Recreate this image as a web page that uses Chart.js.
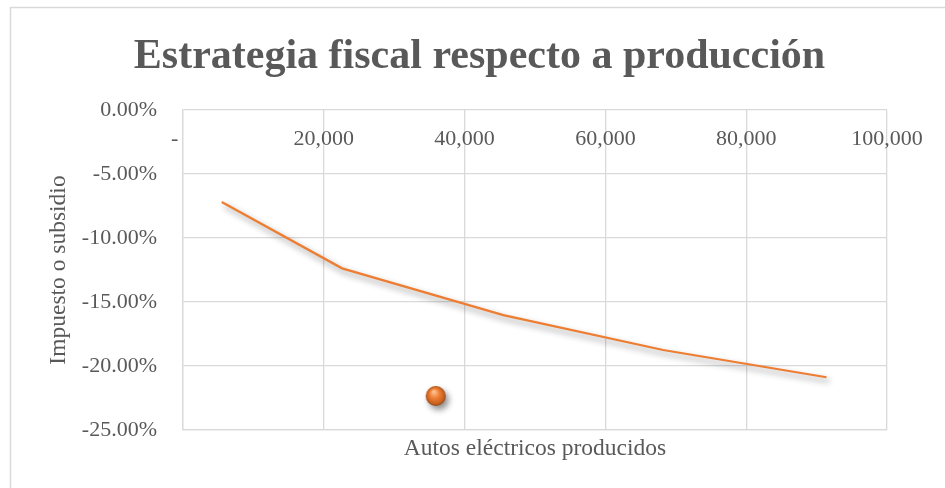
<!DOCTYPE html>
<html>
<head>
<meta charset="utf-8">
<script src="https://cdn.jsdelivr.net/npm/chart.js@4.4.1/dist/chart.umd.min.js"></script>
<style>
  html, body { margin: 0; padding: 0; background: #fff; }
</style>
</head>
<body>
<canvas id="taxChart" width="945" height="488"></canvas>
<script>
// autos producidos vs. impuesto (negativo = subsidio), en %
const produccion = [5500, 22600, 45500, 68200, 91400];
const impuesto = [-7.19, -12.37, -16.02, -18.75, -20.88];
// punto marcado
const puntoX = [35900];
const puntoY = [-22.34];

const xTicks = [0, 20000, 40000, 60000, 80000, 100000];
const yTicks = [0, -5, -10, -15, -20, -25];

const gris = '#595959';
const rejilla = '#d9d9d9';
const serif = 'Liberation Serif';

function fmtMiles(v) {
  return v === 0 ? '-   ' : v.toLocaleString('en-US');
}

// esfera naranja para el marcador
function esfera(r) {
  const c = document.createElement('canvas');
  c.width = c.height = r * 2 + 2;
  const g = c.getContext('2d');
  const cx = r + 1, cy = r + 1;
  const grad = g.createRadialGradient(cx - r * 0.2, cy - r * 0.45, r * 0.05, cx, cy, r);
  grad.addColorStop(0, '#fcc596');
  grad.addColorStop(0.45, '#f08035');
  grad.addColorStop(0.85, '#c8601f');
  grad.addColorStop(1, '#8f4414');
  g.fillStyle = grad;
  g.beginPath();
  g.arc(cx, cy, r, 0, Math.PI * 2);
  g.fill();
  return c;
}

const marco = {
  id: 'marco',
  beforeDraw(chart) {
    const { ctx, width, height } = chart;
    ctx.save();
    ctx.fillStyle = '#fff';
    ctx.fillRect(0, 0, width, height);
    ctx.strokeStyle = rejilla;
    ctx.lineWidth = 1.5;
    ctx.beginPath();
    ctx.moveTo(10.5, height);
    ctx.lineTo(10.5, 7.5);
    ctx.lineTo(width, 7.5);
    ctx.stroke();
    ctx.restore();
  }
};

// etiquetas del eje X dentro del área, bajo la línea del 0%
const etiquetasX = {
  id: 'etiquetasX',
  beforeDatasetsDraw(chart) {
    const { ctx, chartArea } = chart;
    const x = chart.scales.x;
    ctx.save();
    ctx.font = '22px "' + serif + '"';
    ctx.fillStyle = gris;
    ctx.textAlign = 'center';
    ctx.textBaseline = 'middle';
    x.ticks.forEach(t => {
      ctx.fillText(fmtMiles(t.value), x.getPixelForValue(t.value), chartArea.top + 29.5);
    });
    ctx.restore();
  }
};

const sombra = {
  id: 'sombra',
  beforeDatasetDraw(chart) {
    const ctx = chart.ctx;
    ctx.save();
    ctx.shadowColor = 'rgba(0,0,0,0.45)';
    ctx.shadowBlur = 6;
    ctx.shadowOffsetX = 3;
    ctx.shadowOffsetY = 4;
  },
  afterDatasetDraw(chart) {
    chart.ctx.restore();
  }
};

const ctx = document.getElementById('taxChart').getContext('2d');

const taxChart = new Chart(ctx, {
  type: 'scatter',
  data: {
    datasets: [{
      data: produccion.map((v, i) => ({ x: v, y: impuesto[i] })),
      showLine: true,
      borderColor: '#ED7D31',
      borderWidth: 2.25,
      pointRadius: 0,
      tension: 0
    }, {
      data: puntoX.map((v, i) => ({ x: v, y: puntoY[i] })),
      showLine: false,
      pointStyle: esfera(10),
      pointRadius: 10
    }]
  },
  plugins: [marco, etiquetasX, sombra],
  options: {
    responsive: false,
    animation: false,
    layout: { padding: { left: 14, right: 0, top: 0, bottom: 0 } },
    plugins: {
      legend: { display: false },
      tooltip: { enabled: false },
      title: {
        display: true,
        text: 'Estrategia fiscal respecto a producción',
        color: gris,
        font: { family: serif, size: 42, weight: 'bold' },
        padding: { top: 32, bottom: 27.6 }
      }
    },
    scales: {
      x: {
        type: 'linear',
        position: 'bottom',
        min: 0,
        max: 100000,
        afterBuildTicks: s => { s.ticks = xTicks.map(v => ({ value: v })); },
        afterFit: s => { s.height = 58; },
        ticks: { display: false },
        grid: { color: rejilla, lineWidth: 1.3, drawTicks: false },
        border: { color: rejilla, width: 1.3 },
        title: {
          display: true,
          text: 'Autos eléctricos producidos',
          color: gris,
          font: { family: serif, size: 23.5 },
          padding: { top: 0, bottom: 25 }
        }
      },
      y: {
        min: -25,
        max: 0,
        afterBuildTicks: s => { s.ticks = yTicks.map(v => ({ value: v })); },
        afterFit: s => { s.width = 169; },
        ticks: {
          color: gris,
          font: { family: serif, size: 22 },
          padding: 26,
          callback: v => v.toFixed(2) + '%'
        },
        grid: { color: rejilla, lineWidth: 1.3, drawTicks: false },
        border: { color: rejilla, width: 1.3 },
        title: {
          display: true,
          text: 'Impuesto o subsidio',
          color: gris,
          font: { family: serif, size: 23.5 },
          padding: { top: 31, bottom: 0 }
        }
      },
      // margen derecho vacío
      margenDer: {
        type: 'linear',
        position: 'right',
        afterFit: s => { s.width = 58; },
        ticks: { display: false },
        grid: { display: false },
        border: { display: false }
      }
    }
  }
});
</script>
</body>
</html>
